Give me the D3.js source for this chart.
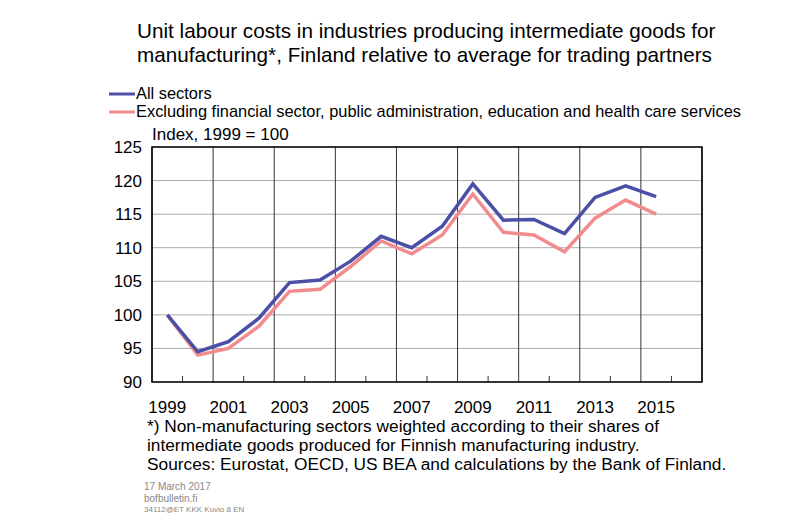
<!DOCTYPE html><html><head><meta charset="utf-8"><script src="https://cdn.jsdelivr.net/npm/d3@7"></script>
<style>body{margin:0;background:#fff}text{font-family:Arial,"Liberation Sans",sans-serif}</style></head><body><svg id="c" width="800" height="523"></svg><script>
const years=d3.range(1999,2016);
const allSectors=[100,94.5,96,99.5,104.8,105.2,108,111.7,110,113.2,119.5,114.1,114.2,112.1,117.5,119.2,117.6];
const excluding=[100,94,95,98.3,103.5,103.8,107.2,111,109.1,111.9,118,112.3,111.9,109.4,114.4,117.1,115];
const yTicks=[90,95,100,105,110,115,120,125];
const xLabels=[1999,2001,2003,2005,2007,2009,2011,2013,2015];
const svg=d3.select("#c");
const x=d3.scaleLinear().domain([1998.5,2016.5]).range([152,702]);
const y=d3.scaleLinear().domain([90,125]).range([382,147]);
svg.append("text").attr("x",137).attr("y",38).attr("font-size",20.7).text("Unit labour costs in industries producing intermediate goods for");
svg.append("text").attr("x",137).attr("y",62).attr("font-size",20.7).text("manufacturing*, Finland relative to average for trading partners");
[["All sectors","#4b4fa6",99],["Excluding financial sector, public administration, education and health care services","#f28b8e",117]].forEach(([t,c,yy])=>{
svg.append("line").attr("x1",109).attr("x2",135).attr("y1",yy-5).attr("y2",yy-5).attr("stroke",c).attr("stroke-width",3);
svg.append("text").attr("x",136).attr("y",yy).attr("font-size",16.4).text(t);});
svg.append("text").attr("x",152).attr("y",140).attr("font-size",17).text("Index, 1999 = 100");
const g=svg.append("g");
yTicks.forEach(v=>{g.append("line").attr("x1",152).attr("x2",702).attr("y1",y(v)).attr("y2",y(v)).attr("stroke","#aaa");
g.append("text").attr("x",142).attr("y",y(v)+6).attr("text-anchor","end").attr("font-size",17).text(v);});
d3.range(1998.5,2016.6,2).forEach(v=>g.append("line").attr("x1",x(v)).attr("x2",x(v)).attr("y1",147).attr("y2",382).attr("stroke","#333"));
d3.range(1999.5,2016,2).forEach(v=>g.append("line").attr("x1",x(v)).attr("x2",x(v)).attr("y1",376).attr("y2",382).attr("stroke","#333"));
g.append("rect").attr("x",152).attr("y",147).attr("width",550).attr("height",235).attr("fill","none").attr("stroke","#000").attr("stroke-width",1.5);
xLabels.forEach(v=>g.append("text").attr("x",x(v)).attr("y",413).attr("text-anchor","middle").attr("font-size",17).text(v));
const line=d3.line().x((d,i)=>x(years[i])).y(d=>y(d));
svg.append("path").datum(excluding).attr("d",line).attr("fill","none").attr("stroke","#f28b8e").attr("stroke-width",3.5);
svg.append("path").datum(allSectors).attr("d",line).attr("fill","none").attr("stroke","#4b4fa6").attr("stroke-width",3.5);
["*) Non-manufacturing sectors weighted according to their shares of","intermediate goods produced for Finnish manufacturing industry.","Sources: Eurostat, OECD, US BEA and calculations by the Bank of Finland."].forEach((t,i)=>svg.append("text").attr("x",147).attr("y",432+i*19).attr("font-size",17.3).text(t));
[["17 March 2017",9,490],["bofbulletin.fi",9,502],["34112@ET KKK Kuvio 8 EN",7,512]].forEach(([t,s,yy])=>svg.append("text").attr("x",144).attr("y",yy).attr("font-size",s+1).attr("fill","#888").text(t));
</script></body></html>
